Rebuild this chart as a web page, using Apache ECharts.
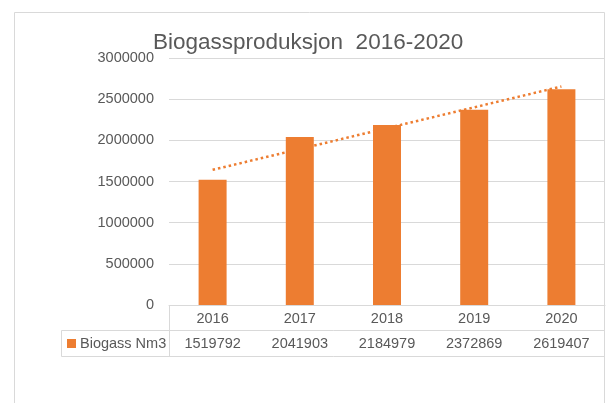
<!DOCTYPE html>
<html>
<head>
<meta charset="utf-8">
<script src="https://cdn.jsdelivr.net/npm/echarts@6/dist/echarts.min.js"></script>
<style>
html,body{margin:0;padding:0;background:#fff;}
#chart{width:606px;height:403px;}
</style>
</head>
<body>
<div id="chart"></div>
<script>
var titleText = 'Biogassproduksjon  2016-2020';
var seriesName = 'Biogass Nm3';
var years = ['2016', '2017', '2018', '2019', '2020'];
var biogass = [1519792, 2041903, 2184979, 2372869, 2619407];
var trendline = [1641751, null, null, null, 2653829];
var yTicks = { min: 0, max: 3000000, interval: 500000 };

var FONT = 'Liberation Sans';
var TXT = '#595959';
var LINE = '#d9d9d9';
var ORANGE = '#ED7D31';

var chart = echarts.init(document.getElementById('chart'), null, { renderer: 'canvas' });
chart.setOption({
  animation: false,
  backgroundColor: '#ffffff',
  title: {
    text: titleText,
    left: 153, top: 31, padding: 0,
    textStyle: { fontFamily: FONT, fontSize: 22.5, fontWeight: 'normal', color: TXT }
  },
  legend: {
    data: [seriesName],
    left: 67, top: 336, padding: 0,
    icon: 'rect', itemWidth: 9, itemHeight: 9, itemGap: 5,
    textStyle: { fontFamily: FONT, fontSize: 14.5, color: TXT, padding: [0, 0, 0, -1] }
  },
  grid: { left: 169, right: 1, top: 58, bottom: 98, containLabel: false },
  xAxis: [
    {
      type: 'category', data: years, position: 'bottom',
      axisLine: { show: true, lineStyle: { color: LINE, width: 1 } },
      axisTick: { show: false },
      axisLabel: { margin: 6, fontFamily: FONT, fontSize: 14.5, color: TXT }
    },
    {
      type: 'category', data: biogass.map(String), position: 'bottom', offset: 25,
      axisLine: { show: false }, axisTick: { show: false },
      axisLabel: { margin: 6, fontFamily: FONT, fontSize: 14.5, color: TXT }
    }
  ],
  yAxis: {
    type: 'value', min: yTicks.min, max: yTicks.max, interval: yTicks.interval,
    axisLine: { show: false }, axisTick: { show: false },
    splitLine: { lineStyle: { color: LINE, width: 1 } },
    axisLabel: { margin: 15, fontFamily: FONT, fontSize: 14.5, color: TXT,
      formatter: function (v) { return String(v); } }
  },
  series: [
    {
      name: 'trend', type: 'line', data: trendline, connectNulls: true,
      symbol: 'none', silent: true, z: 1,
      lineStyle: { color: ORANGE, width: 2.5, type: [2.5, 3] }
    },
    {
      name: seriesName, type: 'bar', data: biogass, barWidth: 28, z: 3,
      itemStyle: { color: ORANGE }
    }
  ],
  graphic: [
    { type: 'rect', shape: { x: 14.5, y: 12.5, width: 590, height: 420 }, style: { fill: 'none', stroke: LINE, lineWidth: 1 }, silent: true },
    { type: 'line', shape: { x1: 61.5, y1: 330.5, x2: 605, y2: 330.5 }, style: { stroke: LINE, lineWidth: 1 } },
    { type: 'line', shape: { x1: 61.5, y1: 356.5, x2: 605, y2: 356.5 }, style: { stroke: LINE, lineWidth: 1 } },
    { type: 'line', shape: { x1: 61.5, y1: 330.5, x2: 61.5, y2: 356.5 }, style: { stroke: LINE, lineWidth: 1 } },
    { type: 'line', shape: { x1: 169.5, y1: 305, x2: 169.5, y2: 356.5 }, style: { stroke: LINE, lineWidth: 1 } }
  ]
});
</script>
</body>
</html>
